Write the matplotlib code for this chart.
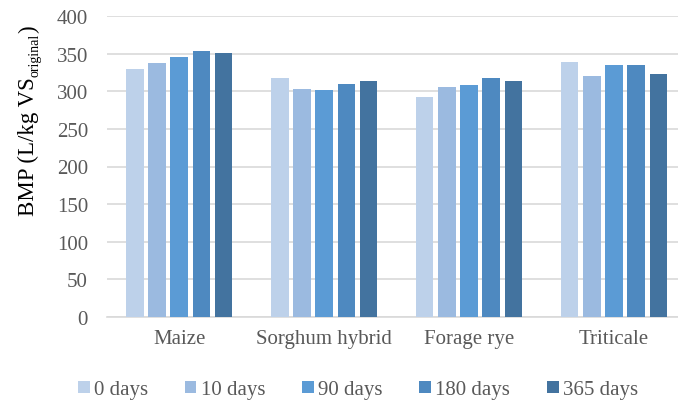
import matplotlib
matplotlib.use("Agg")
import matplotlib.pyplot as plt
import numpy as np

categories = ["Maize", "Sorghum hybrid", "Forage rye", "Triticale"]
series_names = ["0 days", "10 days", "90 days", "180 days", "365 days"]
values = {
    "0 days":   [329, 317, 293, 339],
    "10 days":  [338, 303, 306, 320],
    "90 days":  [345, 301, 308, 335],
    "180 days": [353, 309, 317, 335],
    "365 days": [351, 314, 313, 323],
}
colors = ["#BDD1EA", "#9BBAE0", "#5B9BD5", "#4E89C0", "#43739F"]
yticks = [0, 50, 100, 150, 200, 250, 300, 350, 400]

plt.rcParams["font.family"] = ["Liberation Serif", "DejaVu Serif"]

W, H = 678, 406
fig = plt.figure(figsize=(W / 100, H / 100), dpi=100)
ax = fig.add_axes([106.7 / W, 88 / H, 579.8 / W, 301 / H])

x = np.arange(len(categories))
pitch = 0.153
width = 0.121
for i, name in enumerate(series_names):
    ax.bar(x + (i - 2) * pitch, values[name], width=width, color=colors[i],
           label=name, zorder=3)

ax.set_xlim(-0.5, len(categories) - 0.5)
ax.set_ylim(0, 400)
ax.set_yticks(yticks)
ax.set_xticks(x)
ax.set_xticklabels(categories)
ax.yaxis.grid(True, color="#D9D9D9", linewidth=1.2, zorder=0)
ax.set_axisbelow(True)
for s in ["top", "right", "left"]:
    ax.spines[s].set_visible(False)
ax.spines["bottom"].set_color("#D9D9D9")
ax.spines["bottom"].set_linewidth(1.2)
ax.tick_params(axis="both", length=0, labelsize=15, colors="#595959")
ax.tick_params(axis="x", pad=9)
ax.tick_params(axis="y", pad=13.5)

# y-axis title built from pieces (small subscript)
fig.canvas.draw()
renderer = fig.canvas.get_renderer()
base_x = 34 / W
y0 = (H - 216) / H
t1 = fig.text(base_x, y0, "BMP (L/kg VS", rotation=90, rotation_mode="anchor",
              ha="left", va="baseline", fontsize=16.5, color="black")
bb = t1.get_window_extent(renderer)
y1 = bb.y1 / H
t2 = fig.text(base_x + 4 / W, y1, "original", rotation=90, rotation_mode="anchor",
              ha="left", va="baseline", fontsize=10, color="black")
bb2 = t2.get_window_extent(renderer)
y2 = bb2.y1 / H
fig.text(base_x, y2 + 1 / H, ")", rotation=90, rotation_mode="anchor",
         ha="left", va="baseline", fontsize=16.5, color="black")

fig.legend(loc="center", bbox_to_anchor=(358 / W, 15 / H), ncol=5, frameon=False,
           fontsize=15, handlelength=0.55, handleheight=0.55, handletextpad=0.2,
           columnspacing=1.78, labelcolor="#595959")

fig.savefig("out.png", dpi=100)
